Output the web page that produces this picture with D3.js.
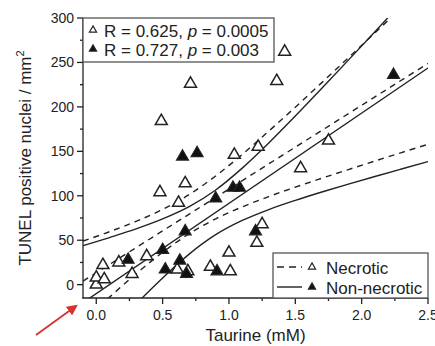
<!DOCTYPE html>
<html>
<head>
<meta charset="utf-8">
<script src="https://cdn.jsdelivr.net/npm/d3@7"></script>
<style>
  body { margin: 0; background: #fff; }
  svg { display: block; font-family: "Liberation Sans", Arial, sans-serif; }
</style>
</head>
<body>
<div id="chart"></div>
<script>
// --- DATA ---
// Necrotic (open triangles)
const necroticX = [0.00, 0.00, 0.05, 0.06, 0.17, 0.27, 0.38, 0.48, 0.49, 0.62, 0.67, 0.61, 0.69, 0.71, 0.86, 1.00, 1.01, 1.04, 1.21, 1.22, 1.25, 1.36, 1.42, 1.54, 1.75];
const necroticY = [0, 8, 22, 6, 25, 12, 32, 104, 184, 92, 114, 17, 15, 226, 20, 36, 15, 146, 47, 155, 68, 229, 262, 131, 162];
// Non-necrotic (filled triangles)
const nonNecroticX = [0.24, 0.50, 0.52, 0.63, 0.68, 0.67, 0.65, 0.76, 0.90, 0.91, 1.03, 1.08, 1.20, 2.24];
const nonNecroticY = [28, 39, 17, 27, 12, 60, 144, 148, 97, 15, 109, 109, 60, 236];

// regression lines (end points) and confidence bands
const fitX = [-0.1, 2.5];
const necroticFit = [4.0, 248.9];
const nonNecroticFit = [-20.2, 243.8];
const bandX = [-0.1, 0.1, 0.3, 0.5, 0.7, 0.9, 1.1, 1.3, 1.5, 1.7, 1.9, 2.1, 2.3, 2.5];
const necroticUpper = [49.0, 59.6, 71.2, 84.6, 101.3, 122.3, 146.5, 172.7, 199.7, 227.3, 255.3, 283.3, 311.6, 339.9];
const necroticLower = [-41.0, -14.0, 12.2, 36.4, 57.3, 74.1, 87.5, 99.1, 109.7, 119.7, 129.5, 139.1, 148.6, 157.9];
const nonNecroticUpper = [43.8, 53.0, 62.7, 73.9, 87.7, 106.5, 131.1, 159.4, 189.7, 220.9, 252.6, 284.6, 316.8, 349.1];
const nonNecroticLower = [-84.2, -52.7, -21.8, 7.6, 34.4, 56.2, 72.2, 84.5, 94.8, 104.2, 113.1, 121.7, 130.1, 138.4];

const xMajor = [0.0, 0.5, 1.0, 1.5, 2.0, 2.5];
const xMinor = [0.25, 0.75, 1.25, 1.75, 2.25];
const yMajor = [0, 50, 100, 150, 200, 250, 300];
const yMinor = [25, 75, 125, 175, 225, 275];

const statsLabels = [
  { open: true, r: "0.625", p: "0.0005" },
  { open: false, r: "0.727", p: "0.003" }
];
const groupLabels = ["Necrotic", "Non-necrotic"];

// --- SETUP ---
const width = 435, height = 346;
const ink = "#222";

const svg = d3.select("#chart").append("svg")
  .attr("width", width)
  .attr("height", height);

const x = d3.scaleLinear().domain([-0.1, 2.5]).range([83, 428]);
const y = d3.scaleLinear().domain([-15, 300]).range([298, 18]);

svg.append("clipPath").attr("id", "plot-clip")
  .append("rect")
  .attr("x", x.range()[0]).attr("y", y.range()[1])
  .attr("width", x.range()[1] - x.range()[0])
  .attr("height", y.range()[0] - y.range()[1]);

// --- LINES ---
const line = d3.line().x(d => x(d[0])).y(d => y(d[1])).curve(d3.curveMonotoneX);
const lines = svg.append("g").attr("clip-path", "url(#plot-clip)")
  .attr("fill", "none").attr("stroke", ink).attr("stroke-width", 1.4);

const series = [
  { xs: fitX, ys: necroticFit, dashed: true },
  { xs: bandX, ys: necroticUpper, dashed: true },
  { xs: bandX, ys: necroticLower, dashed: true },
  { xs: fitX, ys: nonNecroticFit, dashed: false },
  { xs: bandX, ys: nonNecroticUpper, dashed: false },
  { xs: bandX, ys: nonNecroticLower, dashed: false }
];
series.forEach(s => {
  lines.append("path")
    .attr("d", line(s.xs.map((v, i) => [v, s.ys[i]])))
    .attr("stroke-dasharray", s.dashed ? "6,5" : null);
});

// --- POINTS ---
const tri = d3.symbol().type(d3.symbolTriangle).size(62);
svg.append("g").selectAll("path")
  .data(necroticX.map((v, i) => [v, necroticY[i]]))
  .join("path")
  .attr("d", tri)
  .attr("transform", d => `translate(${x(d[0])},${y(d[1])})`)
  .attr("fill", "#fff").attr("stroke", ink).attr("stroke-width", 1.5);

svg.append("g").selectAll("path")
  .data(nonNecroticX.map((v, i) => [v, nonNecroticY[i]]))
  .join("path")
  .attr("d", tri)
  .attr("transform", d => `translate(${x(d[0])},${y(d[1])})`)
  .attr("fill", "#111").attr("stroke", ink).attr("stroke-width", 1.2);

// --- AXES ---
const axes = svg.append("g").attr("stroke", ink).attr("stroke-width", 1.3);
axes.append("line").attr("x1", x.range()[0]).attr("x2", x.range()[0])
  .attr("y1", y.range()[1]).attr("y2", y.range()[0] + 0.6);
axes.append("line").attr("x1", x.range()[0] - 0.6).attr("x2", x.range()[1])
  .attr("y1", y.range()[0]).attr("y2", y.range()[0]);

axes.selectAll(".ymaj").data(yMajor).join("line")
  .attr("x1", x.range()[0] - 6).attr("x2", x.range()[0])
  .attr("y1", d => y(d)).attr("y2", d => y(d));
axes.selectAll(".ymin").data(yMinor).join("line")
  .attr("x1", x.range()[0] - 3).attr("x2", x.range()[0])
  .attr("y1", d => y(d)).attr("y2", d => y(d));
axes.selectAll(".xmaj").data(xMajor).join("line")
  .attr("x1", d => x(d)).attr("x2", d => x(d))
  .attr("y1", y.range()[0]).attr("y2", y.range()[0] + 6);
axes.selectAll(".xmin").data(xMinor).join("line")
  .attr("x1", d => x(d)).attr("x2", d => x(d))
  .attr("y1", y.range()[0]).attr("y2", y.range()[0] + 3);

svg.append("g").selectAll("text").data(yMajor).join("text")
  .attr("x", x.range()[0] - 9).attr("y", d => y(d) + 5)
  .attr("text-anchor", "end").attr("font-size", 14).attr("fill", ink)
  .text(d => d);

svg.append("g").selectAll("text").data(xMajor).join("text")
  .attr("x", d => x(d)).attr("y", y.range()[0] + 22)
  .attr("text-anchor", "middle").attr("font-size", 14).attr("fill", ink)
  .text(d => d.toFixed(1));

svg.append("text")
  .attr("x", (x.range()[0] + x.range()[1]) / 2).attr("y", 341)
  .attr("text-anchor", "middle").attr("font-size", 17).attr("fill", ink)
  .text("Taurine (mM)");

const yTitle = svg.append("text")
  .attr("transform", "translate(31,158) rotate(-90)")
  .attr("text-anchor", "middle").attr("font-size", 17).attr("fill", ink);
yTitle.append("tspan").text("TUNEL positive nuclei / mm");
yTitle.append("tspan").attr("font-size", 11).attr("dy", -7).text("2");

// --- STATS LEGEND (top-left) ---
const statBox = svg.append("g");
statBox.append("rect")
  .attr("x", x.range()[0]).attr("y", 18).attr("width", 191).attr("height", 44)
  .attr("fill", "#fff").attr("stroke", "#555").attr("stroke-width", 1.3);
const smallTri = d3.symbol().type(d3.symbolTriangle).size(22);
statsLabels.forEach((s, i) => {
  const cy = 30 + i * 19;
  statBox.append("path").attr("d", smallTri)
    .attr("transform", `translate(93,${cy})`)
    .attr("fill", s.open ? "#fff" : "#111").attr("stroke", ink).attr("stroke-width", 1.2);
  const t = statBox.append("text").attr("x", 104).attr("y", cy + 6.5)
    .attr("font-size", 17).attr("fill", ink);
  t.append("tspan").text(`R = ${s.r}, `);
  t.append("tspan").attr("font-style", "italic").text("p");
  t.append("tspan").text(` = ${s.p}`);
});

// --- GROUP LEGEND (bottom-right) ---
const grp = svg.append("g");
grp.append("rect")
  .attr("x", 273).attr("y", 253).attr("width", 155).attr("height", 45)
  .attr("fill", "#fff").attr("stroke", "#555").attr("stroke-width", 1.3);
groupLabels.forEach((g, i) => {
  const cy = 267 + i * 20;
  grp.append("line").attr("x1", 277).attr("x2", 302).attr("y1", cy).attr("y2", cy)
    .attr("stroke", ink).attr("stroke-width", 1.4)
    .attr("stroke-dasharray", i === 0 ? "7,5" : null);
  grp.append("path").attr("d", smallTri)
    .attr("transform", `translate(312,${cy})`)
    .attr("fill", i === 0 ? "#fff" : "#111").attr("stroke", ink).attr("stroke-width", 1.2);
  grp.append("text").attr("x", 326).attr("y", cy + 6.5)
    .attr("font-size", 17).attr("fill", ink).text(g);
});

// --- RED ARROW ---
svg.append("defs").append("marker")
  .attr("id", "arrowhead").attr("viewBox", "0 0 10 10")
  .attr("refX", 8).attr("refY", 5)
  .attr("markerWidth", 6).attr("markerHeight", 6)
  .attr("orient", "auto")
  .append("path").attr("d", "M0,0 L10,5 L0,10 z").attr("fill", "#d8312e");
svg.append("line")
  .attr("x1", 36).attr("y1", 335).attr("x2", 76).attr("y2", 306)
  .attr("stroke", "#d8312e").attr("stroke-width", 1.8)
  .attr("marker-end", "url(#arrowhead)");
</script>
</body>
</html>
